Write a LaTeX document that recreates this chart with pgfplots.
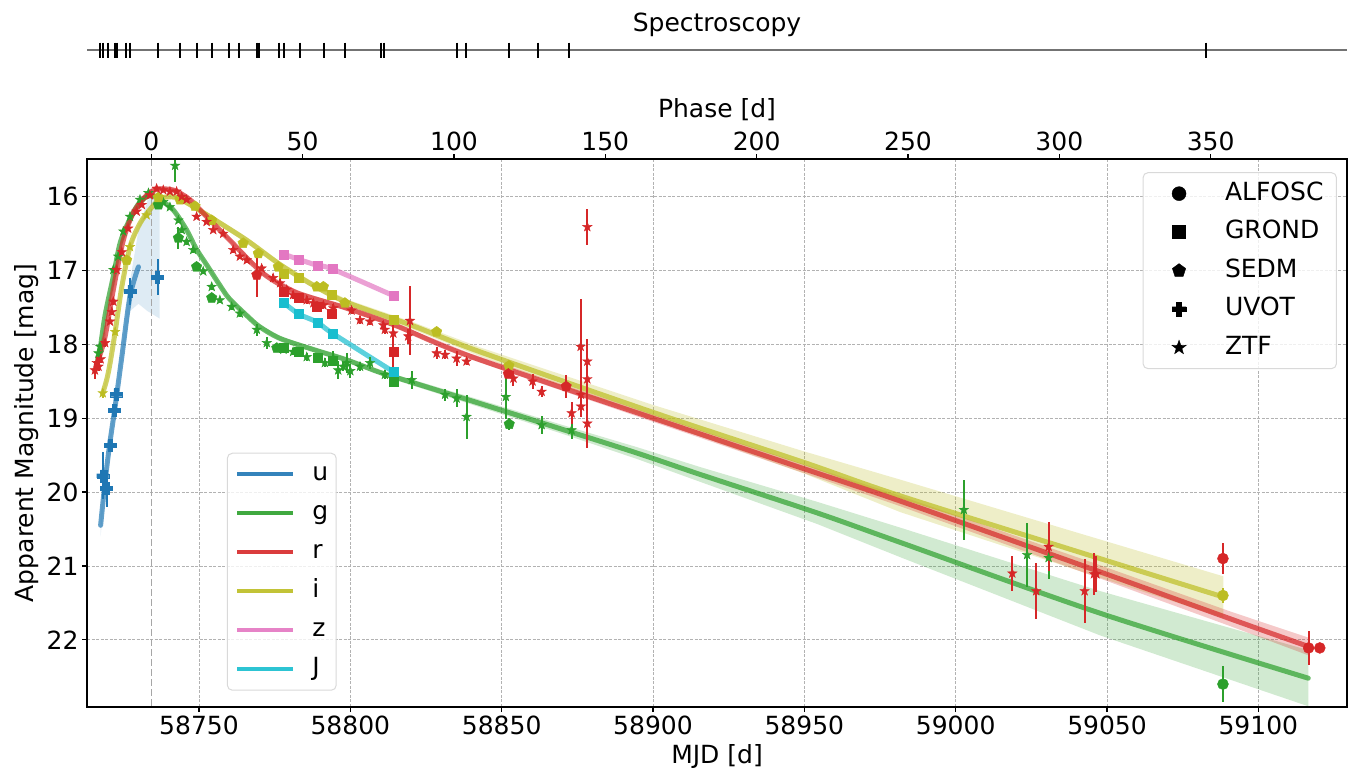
\documentclass[border=0pt]{standalone}
\usepackage{fontspec}
\setmainfont{DejaVu Sans}
\usepackage{pgfplots}
\pgfplotsset{compat=1.18}
\usepackage{pgfplotstable}
\usepgfplotslibrary{fillbetween}
\usetikzlibrary{plotmarks}
\newcommand\fs{\fontsize{25}{30}\selectfont}
\definecolor{uc}{HTML}{1F77B4}
\definecolor{gc}{HTML}{2CA02C}
\definecolor{rc}{HTML}{D62728}
\definecolor{ic}{HTML}{BCBD22}
\definecolor{zc}{HTML}{E377C2}
\definecolor{Jc}{HTML}{17BECF}

\pgfdeclareplotmark{fstar}{%
  \pgfpathmoveto{\pgfpointpolar{90}{\pgfplotmarksize}}%
  \pgfpathlineto{\pgfpointpolar{126}{0.4\pgfplotmarksize}}%
  \pgfpathlineto{\pgfpointpolar{162}{\pgfplotmarksize}}%
  \pgfpathlineto{\pgfpointpolar{198}{0.4\pgfplotmarksize}}%
  \pgfpathlineto{\pgfpointpolar{234}{\pgfplotmarksize}}%
  \pgfpathlineto{\pgfpointpolar{270}{0.4\pgfplotmarksize}}%
  \pgfpathlineto{\pgfpointpolar{306}{\pgfplotmarksize}}%
  \pgfpathlineto{\pgfpointpolar{342}{0.4\pgfplotmarksize}}%
  \pgfpathlineto{\pgfpointpolar{18}{\pgfplotmarksize}}%
  \pgfpathlineto{\pgfpointpolar{54}{0.4\pgfplotmarksize}}%
  \pgfpathclose
  \pgfusepathqfillstroke
}
\pgfdeclareplotmark{fplus}{%
  \pgfpathmoveto{\pgfpoint{-0.35\pgfplotmarksize}{\pgfplotmarksize}}%
  \pgfpathlineto{\pgfpoint{0.35\pgfplotmarksize}{\pgfplotmarksize}}%
  \pgfpathlineto{\pgfpoint{0.35\pgfplotmarksize}{0.35\pgfplotmarksize}}%
  \pgfpathlineto{\pgfpoint{\pgfplotmarksize}{0.35\pgfplotmarksize}}%
  \pgfpathlineto{\pgfpoint{\pgfplotmarksize}{-0.35\pgfplotmarksize}}%
  \pgfpathlineto{\pgfpoint{0.35\pgfplotmarksize}{-0.35\pgfplotmarksize}}%
  \pgfpathlineto{\pgfpoint{0.35\pgfplotmarksize}{-\pgfplotmarksize}}%
  \pgfpathlineto{\pgfpoint{-0.35\pgfplotmarksize}{-\pgfplotmarksize}}%
  \pgfpathlineto{\pgfpoint{-0.35\pgfplotmarksize}{-0.35\pgfplotmarksize}}%
  \pgfpathlineto{\pgfpoint{-\pgfplotmarksize}{-0.35\pgfplotmarksize}}%
  \pgfpathlineto{\pgfpoint{-\pgfplotmarksize}{0.35\pgfplotmarksize}}%
  \pgfpathlineto{\pgfpoint{-0.35\pgfplotmarksize}{0.35\pgfplotmarksize}}%
  \pgfpathclose
  \pgfusepathqfillstroke
}

\pgfplotsset{
  dat/.style={forget plot, only marks, color=#1, mark options={solid, line width=0.4pt},
    error bars/y dir=both, error bars/y explicit, error bars/error mark=none,
    error bars/error bar style={line width=2pt, color=#1}},
  ALF/.style={mark=*, mark size=5.5pt},
  GRO/.style={mark=square*, mark size=4.5pt},
  SED/.style={mark=pentagon*, mark size=5.5pt},
  UVO/.style={mark=fplus, mark size=6pt},
  ZTF/.style={mark=fstar, mark size=5pt},
  fit/.style={forget plot, no marks, smooth, line width=5pt, color=#1, opacity=0.7, line join=round, line cap=round},
}

% fit bands: x = MJD - 58700
\pgfplotstableread{
x c lo hi
17.5 20.45 20.30 20.60
19.0 19.85 19.75 19.95
20.5 19.35 19.27 19.43
22.3 18.84 18.76 18.92
24.5 18.17 18.07 18.27
27.2 17.35 17.15 17.55
30.0 16.95 16.45 17.45
33.0 16.80 16.05 17.55
37.0 16.80 15.95 17.65
}\uband
\pgfplotstableread{
x c
17.5 20.45
19.0 19.85
20.5 19.35
22.3 18.84
24.5 18.17
27.2 17.35
30.0 16.95
}\uline
\pgfplotstableread{
x c lo hi
16.5 18.20 18.15 18.25
17.3 18.07 18.03 18.11
19.0 17.60 17.56 17.64
21.7 17.08 17.05 17.11
24.0 16.62 16.59 16.65
27.2 16.30 16.27 16.33
30.0 16.10 16.07 16.13
32.7 16.00 15.97 16.03
35.0 15.99 15.96 16.02
37.1 16.04 16.01 16.07
41.5 16.18 16.15 16.21
45.9 16.45 16.42 16.48
49.0 16.70 16.67 16.73
52.5 16.92 16.89 16.95
56.9 17.20 17.17 17.23
60.0 17.38 17.35 17.41
65.8 17.61 17.58 17.64
70.0 17.76 17.73 17.79
76.8 17.92 17.89 17.95
87.8 18.07 18.04 18.10
98.8 18.21 18.18 18.24
109.8 18.38 18.35 18.41
120.8 18.52 18.48 18.56
142.8 18.80 18.75 18.85
170.0 19.15 19.09 19.21
194.6 19.47 19.39 19.55
215.5 19.76 19.66 19.86
254.1 20.28 20.13 20.43
281.6 20.68 20.48 20.88
347.7 21.64 21.34 21.94
416.5 22.52 22.14 22.90
}\gband
\pgfplotstableread{
x c lo hi
15.6 18.35 18.30 18.40
17.0 18.18 18.14 18.22
19.0 17.89 17.86 17.92
21.7 17.26 17.23 17.29
25.0 16.59 16.56 16.62
28.3 16.22 16.19 16.25
32.7 15.98 15.95 16.01
36.0 15.90 15.87 15.93
41.5 15.91 15.88 15.94
47.0 16.04 16.01 16.07
52.5 16.27 16.24 16.30
60.2 16.59 16.56 16.62
71.2 17.04 17.01 17.07
82.3 17.30 17.27 17.33
98.8 17.51 17.48 17.54
115.3 17.75 17.72 17.78
139.5 18.16 18.12 18.20
200.1 19.00 18.95 19.05
249.6 19.68 19.62 19.74
281.6 20.12 20.05 20.19
347.7 21.08 20.99 21.17
391.7 21.73 21.63 21.83
416.5 22.09 21.97 22.21
}\rband
\pgfplotstableread{
x c lo hi
18.2 18.66 18.61 18.71
19.5 18.48 18.43 18.53
20.6 18.26 18.21 18.31
22.3 17.83 17.78 17.88
24.5 17.22 17.17 17.27
27.2 16.68 16.64 16.72
30.0 16.40 16.36 16.44
32.7 16.23 16.19 16.27
37.1 16.03 15.99 16.07
41.0 16.00 15.96 16.04
43.7 16.03 15.99 16.07
48.0 16.13 16.09 16.17
54.7 16.30 16.26 16.34
65.8 16.59 16.55 16.63
76.8 16.92 16.88 16.96
87.8 17.20 17.16 17.24
98.8 17.43 17.39 17.47
120.8 17.75 17.70 17.80
142.8 18.10 18.04 18.16
200.0 18.92 18.82 19.02
250.0 19.60 19.45 19.75
281.6 20.05 19.83 20.27
350.0 20.93 20.67 21.19
388.4 21.42 21.14 21.70
}\iband

\begin{document}
\begin{tikzpicture}
% ---------------- spectroscopy strip ----------------
\begin{axis}[
  at={(87pt,-50pt)}, anchor=west, scale only axis, width=1260pt, height=30pt,
  xmin=-21.24, xmax=395.06, ymin=-1, ymax=1, hide axis, clip=false]
\addplot[forget plot, color=black!55, line width=1.5pt] coordinates {(-21.24,0) (395.06,0)};
\addplot[forget plot, only marks, mark=|, mark size=7.5pt, mark options={black, line width=2pt}] coordinates {
(-17.0,0) (-15.9,0) (-14.2,0) (-12.0,0) (-11.2,0) (-8.3,0) (-7.1,0) (2.1,0) (9.4,0) (15.1,0)
(20.0,0) (25.8,0) (29.1,0) (34.9,0) (35.5,0) (42.1,0) (43.8,0) (49.1,0) (57.1,0) (64.1,0)
(75.8,0) (76.9,0) (101.0,0) (103.9,0) (118.1,0) (127.9,0) (138.0,0) (348.4,0)};
\end{axis}
\node[font=\fs] at (717pt,-25pt) {Spectroscopy};

% ---------------- main axis ----------------
\begin{axis}[
  at={(87pt,-159pt)}, anchor=north west,
  scale only axis, width=1260pt, height=548pt,
  xmin=13.0, xmax=429.3, ymin=15.49, ymax=22.91, y dir=reverse,
  xtick={50,100,...,400},
  xticklabels={58750,58800,58850,58900,58950,59000,59050,59100},
  ytick={16,...,22}, yticklabels={16,17,18,19,20,21,22},
  xtick pos=bottom, ytick pos=left, tick align=outside,
  major tick length=5pt,
  tick style={black, line width=1.2pt},
  tick label style={font=\fs},
  axis line style={line width=1.3pt},
  grid=major, grid style={black!30, line width=0.8pt, dash pattern=on 3pt off 1.5pt},
  xlabel={MJD [d]}, ylabel={Apparent Magnitude [mag]},
  every axis x label/.style={at={(axis description cs:0.5,-0.0912)}, anchor=center, font=\fs},
  every axis y label/.style={at={(axis description cs:-0.0476,0.5)}, anchor=center, rotate=90, font=\fs},
  legend style={at={(0.111,0.464)}, anchor=north west, draw=black!15, line width=1pt,
    rounded corners=5pt, fill=white, fill opacity=0.8, text opacity=1,
    inner xsep=8pt, inner ysep=8.5pt, row sep=14pt, column sep=0pt, font=\fs,
    nodes={inner sep=0pt, text height=19pt, text depth=6pt}},
  legend cell align=left,
  legend image code/.code={\path[draw=none, fill=none] (0pt,-5pt) rectangle (75pt,5pt);
    \draw[#1, line width=4pt, opacity=0.9, rounded corners=0pt] (0pt,0pt) -- (56pt,0pt);},
]
\addlegendimage{color=uc}\addlegendentry{u}
\addlegendimage{color=gc}\addlegendentry{g}
\addlegendimage{color=rc}\addlegendentry{r}
\addlegendimage{color=ic}\addlegendentry{i}
\addlegendimage{color=zc}\addlegendentry{z}
\addlegendimage{color=Jc}\addlegendentry{J}

% phase-zero line
\addplot[forget plot, color=black!35, line width=1.5pt, dash pattern=on 7pt off 3pt] coordinates {(34.24,15.49) (34.24,22.91)};

% posterior spreads
\addplot[forget plot, draw=none, name path=uA] table[x=x,y=lo]{\uband};
\addplot[forget plot, draw=none, name path=uB] table[x=x,y=hi]{\uband};
\addplot[forget plot, fill=uc, opacity=0.15] fill between[of=uA and uB];
\addplot[forget plot, draw=none, name path=gA] table[x=x,y=lo]{\gband};
\addplot[forget plot, draw=none, name path=gB] table[x=x,y=hi]{\gband};
\addplot[forget plot, fill=gc, opacity=0.22] fill between[of=gA and gB];
\addplot[forget plot, draw=none, name path=iA] table[x=x,y=lo]{\iband};
\addplot[forget plot, draw=none, name path=iB] table[x=x,y=hi]{\iband};
\addplot[forget plot, fill=ic, opacity=0.25] fill between[of=iA and iB];
\addplot[forget plot, draw=none, name path=rA] table[x=x,y=lo]{\rband};
\addplot[forget plot, draw=none, name path=rB] table[x=x,y=hi]{\rband};
\addplot[forget plot, fill=rc, opacity=0.25] fill between[of=rA and rB];

% fit lines
\addplot[fit=uc] table[x=x,y=c]{\uline};
\addplot[fit=gc] table[x=x,y=c]{\gband};
\addplot[fit=ic] table[x=x,y=c]{\iband};
\addplot[fit=rc] table[x=x,y=c]{\rband};
\addplot[fit=zc] coordinates {(78.1,16.78) (83.0,16.85) (89.1,16.93) (94.1,16.98) (114.2,17.34)};
\addplot[fit=Jc] coordinates {(78.1,17.44) (83.0,17.59) (89.1,17.70) (94.1,17.85) (114.2,18.37)};

% ---- u ----
\addplot[dat=uc, UVO] table[x=x,y=y,y error=e]{
x y e
18.2 19.78 0.32
19.5 19.95 0.25
20.6 19.37 0.08
22.0 18.89 0.06
22.6 18.68 0.05
27.2 17.28 0.18
36.3 17.09 0.24
};
% ---- g ----
\addplot[dat=gc, ZTF] table[x=x,y=y,y error=e]{
x y e
16.8 18.12 0.06
17.3 18.03 0.05
21.7 16.99 0.04
23.3 16.81 0.04
25.0 16.47 0.03
27.2 16.27 0.03
30.5 16.04 0.03
33.3 15.95 0.03
38.2 16.07 0.03
40.4 16.14 0.03
42.1 15.58 0.22
43.2 16.32 0.03
44.3 16.45 0.04
45.9 16.61 0.04
48.1 16.72 0.04
51.4 17.01 0.04
54.2 17.22 0.04
56.9 17.40 0.04
60.8 17.49 0.04
63.5 17.58 0.05
69.1 17.80 0.08
72.4 17.98 0.08
77.9 18.07 0.05
81.1 18.10 0.05
85.6 18.17 0.06
91.6 18.25 0.06
94.4 18.19 0.10
96.0 18.35 0.12
97.7 18.30 0.06
98.8 18.25 0.14
100.0 18.36 0.10
103.2 18.30 0.06
106.5 18.25 0.08
111.4 18.41 0.06
120.3 18.48 0.12
131.3 18.68 0.08
135.1 18.73 0.12
138.4 18.98 0.30
151.4 18.71 0.30
163.2 19.09 0.12
173.1 19.16 0.12
302.7 20.24 0.41
323.6 20.85 0.43
330.7 20.89 0.29
};
\addplot[dat=gc, SED] table[x=x,y=y,y error=e]{
x y e
36.6 16.11 0.03
43.2 16.56 0.15
49.2 16.95 0.04
54.2 17.37 0.04
75.7 18.05 0.04
152.5 19.08 0.08
};
\addplot[dat=gc, GRO] table[x=x,y=y,y error=e]{
x y e
78.1 18.04 0.03
83.0 18.10 0.03
89.1 18.18 0.03
94.1 18.22 0.03
114.2 18.50 0.03
};
\addplot[dat=gc, ALF] table[x=x,y=y,y error=e]{
x y e
388.3 22.60 0.24
};
% ---- i ----
\addplot[dat=ic, ZTF] table[x=x,y=y,y error=e]{
x y e
18.2 18.66 0.06
22.3 17.83 0.04
27.2 16.68 0.03
32.7 16.25 0.03
};
\addplot[dat=ic, SED] table[x=x,y=y,y error=e]{
x y e
26.1 16.86 0.04
36.6 16.01 0.03
43.7 16.04 0.03
48.7 16.13 0.03
54.2 16.32 0.03
64.6 16.63 0.03
69.6 16.77 0.04
76.2 16.95 0.04
88.9 17.22 0.04
91.1 17.22 0.04
98.2 17.44 0.04
128.5 17.83 0.04
152.4 18.29 0.04
};
\addplot[dat=ic, GRO] table[x=x,y=y,y error=e]{
x y e
77.9 17.04 0.03
82.8 17.10 0.03
93.8 17.33 0.03
114.2 17.67 0.03
};
\addplot[dat=ic, ALF] table[x=x,y=y,y error=e]{
x y e
388.3 21.40 0.10
};
% ---- r ----
\addplot[dat=rc, ZTF] table[x=x,y=y,y error=e]{
x y e
15.6 18.35 0.12
16.2 18.25 0.08
16.8 18.30 0.06
17.5 18.20 0.05
19.0 17.98 0.05
20.6 17.69 0.04
21.2 17.56 0.04
21.7 17.42 0.04
22.8 16.99 0.03
24.5 16.75 0.03
26.6 16.43 0.03
29.4 16.20 0.03
31.1 16.11 0.03
33.8 15.98 0.03
36.0 15.89 0.03
38.2 15.91 0.03
40.4 15.93 0.03
42.6 15.93 0.03
44.3 16.00 0.03
45.9 16.04 0.03
49.2 16.27 0.03
52.5 16.34 0.03
54.7 16.45 0.03
58.0 16.50 0.03
61.3 16.72 0.04
63.5 16.81 0.04
65.8 16.86 0.04
70.7 16.97 0.04
74.5 17.10 0.05
76.8 17.17 0.05
79.0 17.26 0.05
81.1 17.33 0.05
85.6 17.40 0.05
87.8 17.44 0.05
91.1 17.47 0.05
94.4 17.51 0.06
100.4 17.54 0.05
103.2 17.67 0.05
106.5 17.69 0.05
110.9 17.74 0.05
111.4 17.80 0.06
114.2 17.85 0.12
119.1 17.89 0.10
119.7 17.68 0.47
128.5 18.12 0.08
131.3 18.14 0.06
135.1 18.19 0.10
138.4 18.23 0.05
153.9 18.46 0.10
160.2 18.50 0.10
163.2 18.64 0.07
173.1 18.93 0.15
176.1 18.03 0.65
176.2 18.68 0.30
176.2 18.84 0.10
178.3 18.23 0.30
178.3 18.47 0.40
178.3 19.07 0.33
178.3 16.41 0.24
318.7 21.10 0.24
326.6 21.34 0.38
330.7 20.74 0.33
342.6 21.34 0.43
345.7 21.11 0.28
346.5 21.11 0.24
};
\addplot[dat=rc, SED] table[x=x,y=y,y error=e]{
x y e
69.1 17.06 0.30
152.2 18.40 0.06
171.3 18.57 0.16
};
\addplot[dat=rc, GRO] table[x=x,y=y,y error=e]{
x y e
77.9 17.28 0.03
82.8 17.37 0.03
88.9 17.49 0.03
93.8 17.58 0.03
114.2 18.10 0.20
};
\addplot[dat=rc, ALF] table[x=x,y=y,y error=e]{
x y e
388.3 20.90 0.21
416.6 22.11 0.23
420.3 22.11 0.00
};
% ---- z, J ----
\addplot[dat=zc, GRO] table[x=x,y=y,y error=e]{
x y e
78.1 16.78 0.02
83.0 16.85 0.02
89.1 16.93 0.02
94.1 16.98 0.02
114.2 17.34 0.02
};
\addplot[dat=Jc, GRO] table[x=x,y=y,y error=e]{
x y e
78.1 17.44 0.02
83.0 17.59 0.02
89.1 17.70 0.02
94.1 17.85 0.02
114.2 18.37 0.02
};
\end{axis}

% ---------------- phase axis + instrument legend ----------------
\begin{axis}[
  at={(87pt,-159pt)}, anchor=north west,
  scale only axis, width=1260pt, height=548pt,
  xmin=-21.24, xmax=395.06, ymin=0, ymax=1,
  axis x line*=top, hide y axis,
  xtick={0,50,...,350}, xticklabels={0,50,100,150,200,250,300,350},
  tick align=outside, major tick length=5pt,
  tick style={black, line width=1.2pt},
  tick label style={font=\fs},
  axis line style={line width=1.3pt},
  xlabel={Phase [d]},
  every axis x label/.style={at={(axis description cs:0.5,1.0894)}, anchor=center, font=\fs},
  legend style={at={(0.992,0.976)}, anchor=north east, draw=black!15, line width=1pt,
    rounded corners=5pt, fill=white, fill opacity=0.8, text opacity=1,
    inner xsep=13pt, inner ysep=8.5pt, row sep=13.5pt, column sep=0pt, font=\fs,
    nodes={inner sep=0pt, text height=19pt, text depth=6pt}},
  legend cell align=left,
  legend image code/.code={\path[draw=none, fill=none] (0pt,-5pt) rectangle (69pt,5pt);
    \draw[#1, fill opacity=1, line width=0.4pt, rounded corners=0pt] plot coordinates {(23pt,0pt)};},
]
\addlegendimage{only marks, mark=*, black, mark size=7pt}\addlegendentry{ALFOSC}
\addlegendimage{only marks, mark=square*, black, mark size=6.5pt}\addlegendentry{GROND}
\addlegendimage{only marks, mark=pentagon*, black, mark size=7pt}\addlegendentry{SEDM}
\addlegendimage{only marks, mark=fplus, black, mark size=7pt}\addlegendentry{UVOT}
\addlegendimage{only marks, mark=fstar, black, mark size=7.5pt}\addlegendentry{ZTF}
\addplot[draw=none, forget plot] coordinates {(0,0.5)};
\end{axis}
\pgfresetboundingbox
\useasboundingbox (0pt,0pt) rectangle (1349pt,-772pt);
\end{tikzpicture}
\end{document}
